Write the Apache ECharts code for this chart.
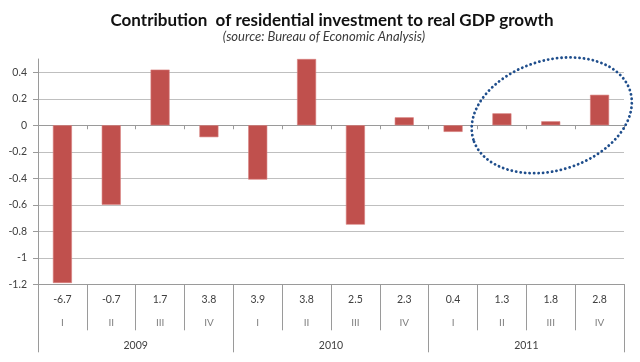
<!DOCTYPE html>
<html>
<head>
<meta charset="utf-8">
<script src="https://cdn.jsdelivr.net/npm/echarts@6/dist/echarts.min.js"></script>
<style>html,body{margin:0;padding:0;background:#fff}#c{width:640px;height:362px}</style>
</head>
<body>
<div id="c"></div>
<script>
const gdpGrowth = ['-6.7','-0.7','1.7','3.8','3.9','3.8','2.5','2.3','0.4','1.3','1.8','2.8'];
const quarters = ['I','II','III','IV','I','II','III','IV','I','II','III','IV'];
const years = ['2009','2010','2011'];
const contribution = [-1.19, -0.6, 0.42, -0.09, -0.41, 0.5, -0.75, 0.06, -0.05, 0.09, 0.03, 0.23];
const yTicks = { min: -1.2, max: 0.5, interval: 0.2 };

const chart = echarts.init(document.getElementById('c'), null, { renderer: 'canvas' });
const gridColor = '#bfbfbf';
const axisColor = '#9a9a9a';
const font = 'Lato, "Open Sans", sans-serif';

chart.setOption({
  animation: false,
  backgroundColor: '#ffffff',
  title: [
    { text: 'Contribution  of residential investment to real GDP growth', left: 327, top: 7, textAlign: 'center',
      textStyle: { fontFamily: font, fontSize: 17, fontWeight: 'bold', color: '#111' } },
    { text: '(source: Bureau of Economic Analysis)', left: 319, top: 25, textAlign: 'center',
      textStyle: { fontFamily: font, fontSize: 13, fontStyle: 'italic', fontWeight: 'normal', color: '#3a3a3a' } }
  ],
  grid: { left: 38, right: 16, top: 59, bottom: 77.7, containLabel: false },
  xAxis: [
    { type: 'category', data: gdpGrowth, position: 'bottom',
      axisLine: { show: true, onZero: false, lineStyle: { color: axisColor, width: 1 } },
      axisTick: { show: true, interval: 0, length: 46, lineStyle: { color: axisColor } },
      axisLabel: { interval: 0, margin: 10, fontFamily: font, fontSize: 10.5, color: '#404040' } },
    { type: 'category', data: quarters, position: 'bottom',
      axisLine: { show: false, onZero: false }, axisTick: { show: false },
      axisLabel: { interval: 0, margin: 33, fontFamily: font, fontSize: 10, color: '#7f7f7f' } },
    { type: 'category', data: years, position: 'bottom',
      axisLine: { show: false, onZero: false },
      axisTick: { show: true, interval: 0, length: 68, lineStyle: { color: axisColor } },
      axisLabel: { interval: 0, margin: 56, fontFamily: font, fontSize: 10.5, color: '#404040' } },
    { type: 'category', data: gdpGrowth, position: 'bottom',
      axisLine: { show: true, onZero: true, lineStyle: { color: axisColor, width: 1 } },
      axisTick: { show: true, interval: 0, length: 4, lineStyle: { color: axisColor } },
      axisLabel: { show: false } }
  ],
  yAxis: {
    type: 'value', min: yTicks.min, max: yTicks.max, interval: yTicks.interval,
    axisLine: { show: true, onZero: false, lineStyle: { color: axisColor } },
    axisTick: { show: true, length: 5, lineStyle: { color: axisColor } },
    axisLabel: { showMaxLabel: false, margin: 11, fontFamily: font, fontSize: 10.5, color: '#404040',
      formatter: v => String(Math.round(v * 10) / 10) },
    splitLine: { show: true, showMaxLine: false, lineStyle: { color: gridColor, width: 1 } }
  },
  series: [{
    type: 'bar', data: contribution, xAxisIndex: 0, barWidth: 19,
    itemStyle: { color: '#c0504d', borderColor: '#d9807d', borderWidth: 0.6 }
  }]
});

// dotted ellipse highlighting the 2011 Q2–Q4 bars
const c = chart.convertToPixel({ xAxisIndex: 0, yAxisIndex: 0 }, [10, 0.075]);
const catW = chart.convertToPixel({ xAxisIndex: 0 }, 1) - chart.convertToPixel({ xAxisIndex: 0 }, 0);
chart.setOption({
  graphic: [{
    type: 'ellipse', x: c[0] + 1, y: c[1], rotation: 0.3,
    shape: { cx: 0, cy: 0, rx: catW * 1.68, ry: 55 },
    style: { fill: 'none', stroke: '#1f4e8c', lineWidth: 2.8, lineDash: [0.1, 4.4], lineCap: 'round' },
    z: 100
  }]
});
</script>
</body>
</html>
